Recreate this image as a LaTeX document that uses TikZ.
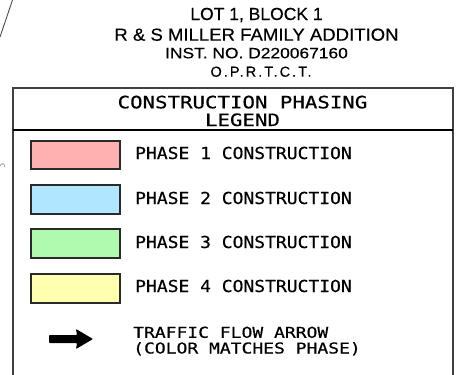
\documentclass[tikz,border=0pt]{standalone}
\usepackage{fontspec}
\newfontfamily\ttlfont{Liberation Sans}
\newfontfamily\monofont{DejaVu Sans Mono}
\definecolor{phaseone}{HTML}{FFB0B0}
\definecolor{phasetwo}{HTML}{B0E6FF}
\definecolor{phasethree}{HTML}{B0FAB0}
\definecolor{phasefour}{HTML}{FFFFB0}
\definecolor{edge}{HTML}{2A2A2A}
\tikzset{
  swatch/.style={draw=edge, line width=2pt, minimum width=89pt, minimum height=28.5pt, inner sep=0pt, anchor=north west},
  phasetext/.style={anchor=base west, inner sep=0pt, font={\monofont\fontsize{16.5}{18}\selectfont\addfontfeature{FakeStretch=1.09,FakeBold=0.6}}},
  titletext/.style={anchor=base, inner sep=0pt},
  hdrtext/.style={anchor=base, inner sep=0pt, font={\monofont\fontsize{17}{19}\selectfont\addfontfeature{FakeStretch=1.22,FakeBold=0.5}}},
  frame/.style={draw=black!75, line width=2pt},
}
\begin{document}
\begin{tikzpicture}[x=1pt,y=-1pt]
\useasboundingbox (0,0) rectangle (456,375);
% stray lines of the plan
\draw[black!70, line width=0.9pt] (12.5,0) -- (0,37);
\draw[black!40, line width=0.8pt] (0,166) .. controls (2,162.5) and (4,163) .. (5,167);
% title
\node[titletext, font={\ttlfont\fontsize{17.5}{20}\selectfont\addfontfeature{FakeBold=0.4}}] (t1) at (256.5,20) {LOT 1, BLOCK 1};
\node[titletext, font={\ttlfont\fontsize{17.5}{20}\selectfont\addfontfeature{FakeStretch=1.06,FakeBold=0.4}}] (t2) at (256.5,40.7) {R \& S MILLER FAMILY ADDITION};
\node[titletext, font={\ttlfont\fontsize{15}{17}\selectfont\addfontfeature{FakeStretch=1.16,FakeBold=0.4}}] (t3) at (256.5,58.3) {INST. NO. D220067160};
\node[titletext, font={\ttlfont\fontsize{14.5}{16}\selectfont\addfontfeature{LetterSpace=14,FakeBold=0.3}}] (t4) at (261,76.7) {O.P.R.T.C.T.};
% legend frame
\coordinate (bl) at (12.5,375);
\coordinate (tl) at (12.5,88);
\coordinate (tr) at (453,88);
\coordinate (br) at (453,375);
\draw[frame] (bl) -- (tl) -- (tr) -- (br);
\coordinate (sl) at (12.5,130);
\coordinate (sr) at (453,130);
\draw[line width=2.4pt, black] (sl) -- (sr);
\node[hdrtext] (h1) at (242.5,108.3) {CONSTRUCTION PHASING};
\node[hdrtext] (h2) at (242.5,126) {LEGEND};
% swatches
\node[swatch, fill=phaseone] (s1) at (30,139.5) {};
\node[swatch, fill=phasetwo] (s2) at (30,184) {};
\node[swatch, fill=phasethree] (s3) at (30,228) {};
\node[swatch, fill=phasefour] (s4) at (30,273) {};
\node[phasetext] (p1) at (135,159) {PHASE 1 CONSTRUCTION};
\node[phasetext] (p2) at (135,204) {PHASE 2 CONSTRUCTION};
\node[phasetext] (p3) at (135,248) {PHASE 3 CONSTRUCTION};
\node[phasetext] (p4) at (135,292) {PHASE 4 CONSTRUCTION};
% traffic arrow
\fill[black, rounded corners=0.8pt] (49,335) -- (77,335) -- (76,329) -- (93,339) -- (76,349) -- (77,343) -- (49,343) -- cycle;
\node[anchor=base west, inner sep=0pt, align=left, font={\monofont\fontsize{15}{15.7}\selectfont\addfontfeature{FakeStretch=1.2,FakeBold=0.5}}] (tf) at (133,353.5) {TRAFFIC FLOW ARROW\\(COLOR MATCHES PHASE)};
\end{tikzpicture}
\end{document}
